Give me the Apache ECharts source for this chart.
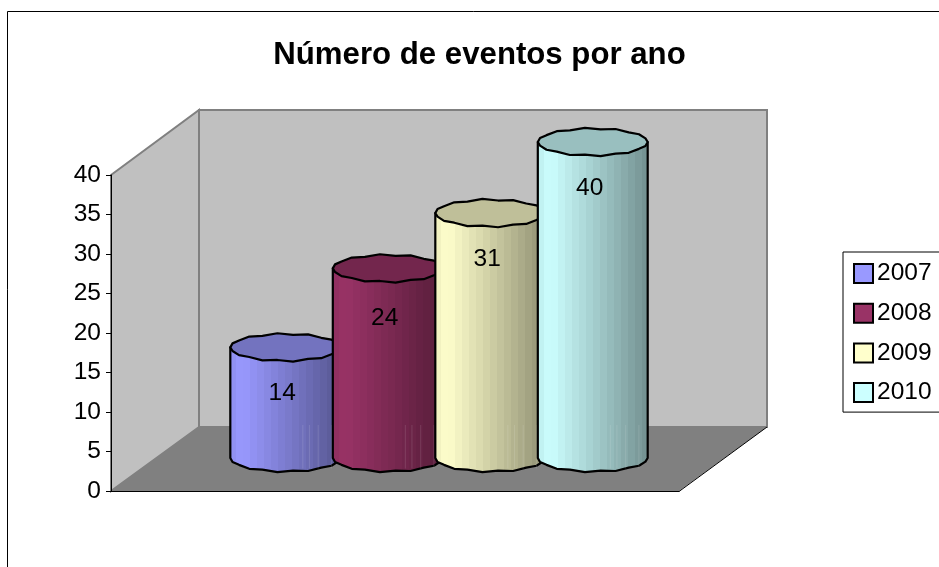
<!DOCTYPE html>
<html>
<head>
<meta charset="utf-8">
<style>
  html, body { margin: 0; padding: 0; background: #fff; overflow: hidden; }
  #chart { width: 939px; height: 567px; }
</style>
<script src="https://cdn.jsdelivr.net/npm/echarts@6/dist/echarts.min.js"></script>
</head>
<body>
<div id="chart"></div>
<script>
let years = ['2007', '2008', '2009', '2010'];
let eventCounts = [14, 24, 31, 40];
let colors = ['#9999ff', '#993366', '#ffffcc', '#ccffff'];
let yTicks = [0, 5, 10, 15, 20, 25, 30, 35, 40];

let font = '"Liberation Sans", Arial, sans-serif';

function rgb(hex, f) {
  let n = parseInt(hex.slice(1), 16);
  let r = Math.round((n >> 16) * f);
  let g = Math.round(((n >> 8) & 255) * f);
  let b = Math.round((n & 255) * f);
  return 'rgb(' + r + ',' + g + ',' + b + ')';
}

// hard stepped stops, the original has visible vertical bands
function bandedFill(hex) {
  let stops = [];
  let n = 16;
  for (let i = 0; i < n; i++) {
    let t = (i + 0.5) / n;
    let f = t < 0.12 ? 0.93 + t * 0.58 : 1 - (t - 0.12) * 0.5;
    stops.push({ offset: i / n, color: rgb(hex, f) });
    stops.push({ offset: (i + 1) / n, color: rgb(hex, f) });
  }
  return new echarts.graphic.LinearGradient(0, 0, 1, 0, stops);
}

// the outline of the cylinders is wobbly, not a clean ellipse
function arc(cx, cy, rx, ry, from, to, n) {
  let pts = [];
  for (let i = 0; i <= n; i++) {
    let a = from + (to - from) * i / n;
    let wobble = (i % 2 ? 0.8 : -0.8) * Math.abs(Math.sin(a));
    pts.push([cx + rx * Math.cos(a), cy + ry * Math.sin(a) + wobble]);
  }
  return pts;
}

function renderCylinder(params, api) {
  let i = api.value(0);
  let top = api.coord([i, api.value(1)]);
  let base = api.coord([i, 0]);
  let rx = api.size([1, 0])[0] * 0.536;
  let ry = 13.5;
  let color = colors[i];
  let cx = top[0];

  let body = [[cx - rx, top[1]]]
    .concat(arc(cx, base[1], rx, ry, Math.PI, 0, 11))
    .concat([[cx + rx, top[1]]]);

  let seams = [0.66, 0.72, 0.8, 0.92].map(function (t) {
    return {
      type: 'line',
      shape: { x1: cx - rx + 2 * rx * t, y1: base[1] - 33, x2: cx - rx + 2 * rx * t, y2: base[1] + ry - 3 },
      style: { stroke: 'rgba(255,255,255,0.12)', lineWidth: 1 }
    };
  });

  return {
    type: 'group',
    children: [
      {
        type: 'polygon',
        shape: { points: body },
        style: { fill: bandedFill(color), stroke: '#000', lineWidth: 2.2, lineJoin: 'round' }
      }
    ].concat(seams).concat([
      {
        type: 'polygon',
        shape: { points: arc(cx, top[1], rx, ry, 0, Math.PI * 2, 22) },
        style: { fill: rgb(color, 0.75), stroke: '#000', lineWidth: 2.2, lineJoin: 'round' }
      },
      {
        type: 'text',
        style: {
          text: String(api.value(1)),
          x: cx - 3,
          y: top[1] + 46 + (i === 1 ? 4 : 0), // 2008 label sits a bit lower in the original
          fill: '#000',
          font: '24.5px ' + font,
          textAlign: 'center',
          textVerticalAlign: 'middle'
        }
      }
    ])
  };
}

let myChart = echarts.init(document.getElementById('chart'));

let series = years.map(function (year, i) {
  return {
    name: year,
    type: 'custom',
    xAxisIndex: 1,
    yAxisIndex: 1,
    z: 5 + i,
    itemStyle: { color: colors[i], borderColor: '#000', borderWidth: 2 },
    encode: { x: 0, y: 1 },
    data: [[i, eventCounts[i]]],
    renderItem: renderCylinder
  };
});

let option = {
  animation: false,
  backgroundColor: '#fff',
  textStyle: { fontFamily: font },
  title: {
    text: 'Número de eventos por ano',
    left: 474.5,
    top: 35,
    textAlign: 'center',
    textStyle: { fontFamily: font, fontSize: 31.2, fontWeight: 'bold', color: '#000' }
  },
  legend: {
    orient: 'vertical',
    left: 843,
    top: 252,
    padding: [9, 20, 7, 10],
    itemWidth: 19,
    itemHeight: 19,
    itemGap: 14.7,
    borderColor: '#000',
    borderWidth: 1,
    selectedMode: false,
    icon: 'rect',
    textStyle: { fontFamily: font, fontSize: 24.5, color: '#000', padding: [0, 0, 0, -1] },
    data: years
  },
  // grid 0 holds the visible front axes, grid 1 the same scale pushed back to the middle of the floor
  grid: [
    { left: 111, top: 175, width: 568, height: 316 },
    { left: 234, top: 142, width: 410, height: 316 }
  ],
  xAxis: [
    {
      gridIndex: 0,
      type: 'category',
      data: [''],
      axisTick: { show: false },
      axisLabel: { show: false },
      axisLine: { lineStyle: { color: '#000', width: 1 } },
      z: 3
    },
    { gridIndex: 1, type: 'category', data: years, show: false }
  ],
  yAxis: [
    {
      gridIndex: 0,
      type: 'value',
      min: yTicks[0],
      max: yTicks[yTicks.length - 1],
      interval: yTicks[1] - yTicks[0],
      splitLine: { show: false },
      axisLine: { show: true, lineStyle: { color: '#000', width: 1 } },
      axisTick: { show: true, inside: false, length: 5, lineStyle: { color: '#000', width: 1 } },
      axisLabel: { fontFamily: font, fontSize: 24.5, color: '#000', margin: 10 },
      z: 3
    },
    { gridIndex: 1, type: 'value', min: 0, max: 40, show: false }
  ],
  graphic: [
    { type: 'rect', z: -5, shape: { x: 7.5, y: 11.5, width: 1000, height: 1000 }, style: { fill: '#fff', stroke: '#000', lineWidth: 1 } },
    { type: 'polygon', z: -4, shape: { points: [[111, 175], [199, 110], [199, 427], [111, 491]] }, style: { fill: '#c0c0c0', stroke: '#808080', lineWidth: 2 } },
    { type: 'polygon', z: -4, shape: { points: [[199, 110], [767, 110], [767, 427], [199, 427]] }, style: { fill: '#c0c0c0', stroke: '#808080', lineWidth: 2 } },
    { type: 'polygon', z: -3, shape: { points: [[111, 491], [199, 427], [767, 427], [679, 491]] }, style: { fill: '#808080' } },
    { type: 'line', z: -2, shape: { x1: 679, y1: 491.5, x2: 767, y2: 427 }, style: { stroke: '#000', lineWidth: 1 } }
  ],
  series: series
};

myChart.setOption(option);
</script>
</body>
</html>
